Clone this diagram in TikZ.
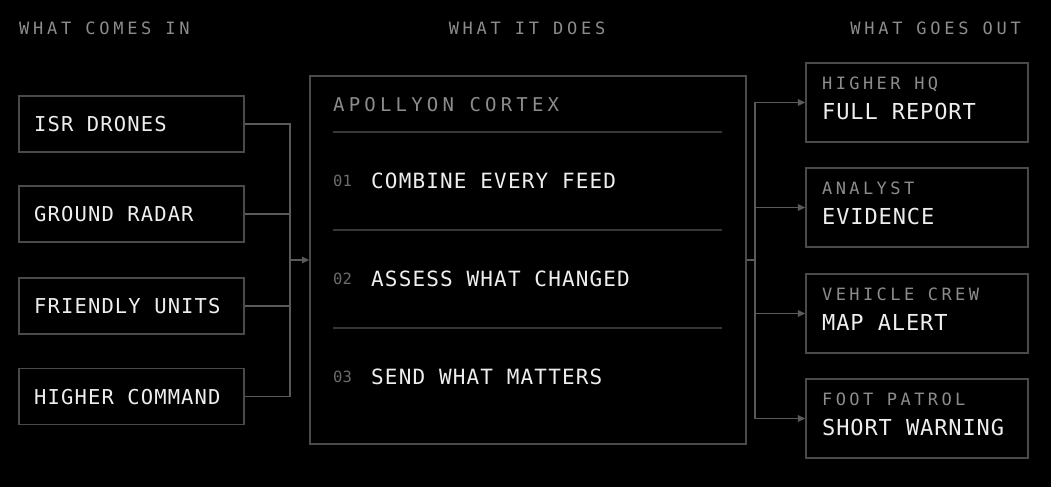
\documentclass[tikz,border=0pt]{standalone}
\usepackage{fontspec}
\usetikzlibrary{arrows.meta}
\newfontfamily\headfont[LetterSpace=22]{DejaVu Sans Mono}
\newfontfamily\tagfont[LetterSpace=20]{DejaVu Sans Mono}
\newfontfamily\bodyfont[LetterSpace=5.5]{DejaVu Sans Mono}
\newfontfamily\msgfont[LetterSpace=4]{DejaVu Sans Mono}
\newfontfamily\numfont{DejaVu Sans Mono}
\definecolor{bg}{HTML}{000000}
\definecolor{boxline}{HTML}{4A4A4A}
\definecolor{wire}{HTML}{5A5A5A}
\definecolor{rule}{HTML}{363636}
\definecolor{ink}{HTML}{EEEEEE}
\definecolor{dim}{HTML}{8C8C8C}
\definecolor{numgray}{HTML}{6C6C6C}

\begin{document}
\begin{tikzpicture}[x=1pt, y=-1pt,
    head/.style={text=dim, inner sep=0pt, text height=12.4pt, text depth=0pt, font=\headfont\fontsize{17}{18}\selectfont},
    inbox/.style={draw=boxline, line width=1.3pt, minimum width=225pt, minimum height=56pt},
    outbox/.style={draw=boxline, line width=1.3pt, minimum width=222pt, minimum height=79pt},
    core/.style={draw=boxline, line width=1.3pt, minimum width=436pt, minimum height=368pt},
    tag/.style={text=dim, anchor=west, inner sep=0pt, text height=12.4pt, text depth=0pt, font=\tagfont\fontsize{17}{18}\selectfont},
    source/.style={text=ink, anchor=west, inner sep=0pt, text height=15pt, text depth=0pt, font=\bodyfont\fontsize{20.5}{22}\selectfont},
    task/.style={text=ink, anchor=west, inner sep=0pt, text height=15.3pt, text depth=0pt, font=\bodyfont\fontsize{21}{22}\selectfont},
    msg/.style={text=ink, anchor=west, inner sep=0pt, text height=16pt, text depth=0pt, font=\msgfont\fontsize{22}{24}\selectfont},
    num/.style={text=numgray, anchor=west, inner sep=0pt, text height=11.5pt, text depth=0pt, font=\numfont\fontsize{15.5}{16}\selectfont},
    wire/.style={draw=wire, line width=1.3pt},
    divider/.style={draw=rule, line width=1.2pt},
    >={Triangle[length=7.5pt, width=6.5pt]}]

    % background and frame
    \fill[bg] (0,0) rectangle (1051,487);
    \useasboundingbox (0,0) rectangle (1051,487);

    % column headings
    \node[head, anchor=west] (hin) at (19,28) {WHAT COMES IN};
    \node[head] (hdo) at (527,28) {WHAT IT DOES};
    \node[head, anchor=east] (hout) at (1021,28) {WHAT GOES OUT};

    % inputs
    \node[inbox] (isr) at (131.5,124) {};
    \node[source] (isrtxt) at (34,124) {ISR DRONES};
    \node[inbox] (radar) at (131.5,214) {};
    \node[source] (radartxt) at (34,214) {GROUND RADAR};
    \node[inbox] (friendly) at (131.5,306) {};
    \node[source] (friendlytxt) at (34,306) {FRIENDLY UNITS};
    \node[inbox] (command) at (131.5,396.5) {};
    \node[source] (commandtxt) at (34,396.5) {HIGHER COMMAND};

    % the core
    \node[core] (cortex) at (528,260) {};
    \node[tag, text height=14pt, font=\headfont\fontsize{19}{20}\selectfont] (title) at (333,104) {APOLLYON CORTEX};
    \draw[divider] (333,132) -- (722,132);
    \draw[divider] (333,230) -- (722,230);
    \draw[divider] (333,328) -- (722,328);

    \node[num] (n1) at (333,181) {01};
    \node[task] (s1) at (371,181) {COMBINE EVERY FEED};
    \node[num] (n2) at (333,279) {02};
    \node[task] (s2) at (371,279) {ASSESS WHAT CHANGED};
    \node[num] (n3) at (333,377) {03};
    \node[task] (s3) at (371,377) {SEND WHAT MATTERS};

    % outputs
    \node[outbox] (hq) at (917,102.5) {};
    \node[tag] (hqtag) at (822,83) {HIGHER HQ};
    \node[msg] (hqmsg) at (822,111) {FULL REPORT};

    \node[outbox] (analyst) at (917,207.5) {};
    \node[tag] (antag) at (822,188) {ANALYST};
    \node[msg] (anmsg) at (822,216) {EVIDENCE};

    \node[outbox] (crew) at (917,313.5) {};
    \node[tag] (crewtag) at (822,294) {VEHICLE CREW};
    \node[msg] (crewmsg) at (822,322) {MAP ALERT};

    \node[outbox] (patrol) at (917,418.5) {};
    \node[tag] (pattag) at (822,399) {FOOT PATROL};
    \node[msg] (patmsg) at (822,427) {SHORT WARNING};

    % connectors
    \coordinate (joinL) at (290,260);
    \coordinate (joinR) at (755,260);

    \draw[wire] (isr.east) -| (joinL);
    \draw[wire] (radar.east) -| (joinL);
    \draw[wire] (friendly.east) -| (joinL);
    \draw[wire] (command.east) -| (joinL);
    \draw[wire, ->] (joinL) -- (cortex.west);

    \draw[wire] (cortex.east) -- (joinR);
    \draw[wire, ->] (joinR) |- (hq.west);
    \draw[wire, ->] (joinR) |- (analyst.west);
    \draw[wire, ->] (joinR) |- (crew.west);
    \draw[wire, ->] (joinR) |- (patrol.west);
\end{tikzpicture}
\end{document}
